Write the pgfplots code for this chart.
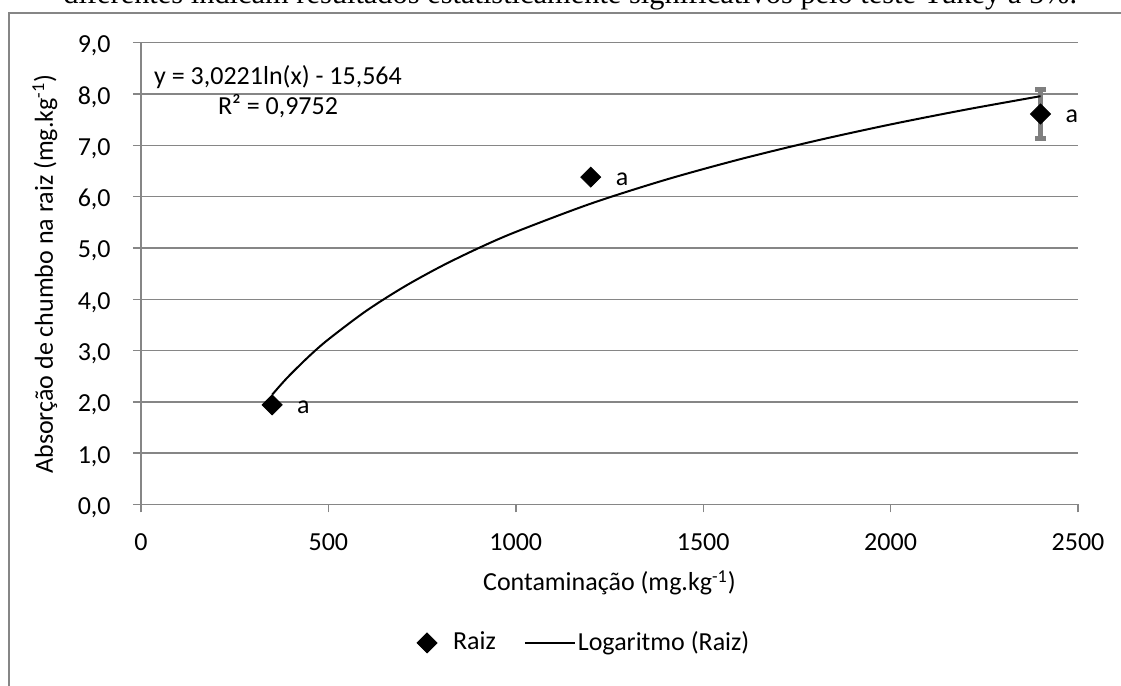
\documentclass[border=0pt]{standalone}
\usepackage{fontspec}
\setmainfont{Carlito}
\newfontfamily\timesfont{Liberation Serif}
\usepackage{pgfplots}
\pgfplotsset{compat=1.18}
\definecolor{gridgray}{RGB}{134,134,134}
\definecolor{errgray}{RGB}{127,127,127}
\pgfplotsset{
  markleg/.style={legend image code/.code={\draw[##1] plot coordinates {(5pt,0pt)}; \path[draw=none] (0pt,0pt) -- (17pt,0pt);}},
  lineleg/.style={legend image code/.code={\draw[##1] (0pt,0pt) -- (25pt,0pt);}},
}

\begin{document}
\fontsize{13}{15.6}\selectfont
\begin{tikzpicture}
% caption line of the page above the chart (cut by the page edge)
\node[anchor=base west, inner sep=0pt, font=\timesfont\fontsize{15.2}{18}\selectfont]
  at (31.5pt,341.3pt) {diferentes indicam resultados estatisticamente significativos pelo teste Tukey a 5\%.};
% chart frame
\draw[gridgray, line width=0.7pt] (4.5pt,-20pt) -- (4.5pt,336.5pt) -- (600pt,336.5pt);

\begin{axis}[
    at={(70.5pt,90.8pt)}, anchor=south west,
    scale only axis, width=468.5pt, height=230.85pt,
    xmin=0, xmax=2500, ymin=0, ymax=9,
    xtick={0,500,1000,1500,2000,2500},
    ytick={0,1,2,3,4,5,6,7,8,9},
    scaled x ticks=false,
    axis lines*=left,
    axis line style={-, draw=gridgray, line width=0.7pt},
    tick align=outside, major tick length=4pt,
    tick style={draw=gridgray, line width=0.7pt},
    ymajorgrids, grid style={draw=gridgray, line width=0.7pt},
    /pgf/number format/assume math mode=true,
    xticklabel style={/pgf/number format/1000 sep={}, anchor=base, inner sep=0pt, yshift=-19pt},
    yticklabel style={/pgf/number format/fixed, /pgf/number format/fixed zerofill,
        /pgf/number format/precision=1, /pgf/number format/use comma,
        anchor=base east, inner sep=0pt, xshift=-11pt, yshift=-5pt},
    xlabel={Contaminação (mg.kg\textsuperscript{-1})},
    ylabel={Absorção de chumbo na raiz (mg.kg\textsuperscript{-1})},
    every axis x label/.style={at={(axis description cs:0.5,-0.1700)}, anchor=center},
    every axis y label/.style={at={(axis description cs:-0.1025,0.499)}, rotate=90, anchor=center},
    legend columns=2,
    legend cell align=left,
    legend style={draw=none, fill=none, at={(axis description cs:0.473,-0.300)}, anchor=center,
        nodes={inner sep=1pt},
        /tikz/every even column/.append style={column sep=13pt}},
]
% error bar of the last treatment
\addplot[draw=none, forget plot,
    error bars/.cd, y dir=both, y explicit,
    error bar style={draw=errgray, line width=2.5pt},
    error mark options={rotate=90, draw=errgray, line width=2.5pt, mark size=2.75pt}]
    coordinates {(2400,7.61) +- (0,0.47)};

\addplot[only marks, mark=square*, mark size=3.54pt,
    mark options={rotate=45, draw=black, fill=black},
    nodes near coords={a},
    every node near coord/.append style={anchor=base west, inner sep=0pt,
        xshift=12.3pt, yshift=-4.2pt, black},
    markleg]
    coordinates {(350,1.94) (1200,6.38) (2400,7.61)};
\addlegendentry{Raiz}

% trend line  y = 3,0221 ln(x) - 15,564
\addplot[black, line width=1pt, smooth, lineleg]
    coordinates {
    (350,2.139) (375,2.348) (400,2.543) (450,2.899) (500,3.217)
    (600,3.768) (700,4.234) (800,4.638) (900,4.994) (1000,5.312)
    (1200,5.863) (1400,6.329) (1600,6.732) (1800,7.088) (2000,7.407)
    (2200,7.695) (2400,7.958)
    };
\addlegendentry{Logaritmo (Raiz)}
\end{axis}

\node[anchor=base] at (139pt,300.5pt) {y = 3,0221ln(x) - 15,564};
\node[anchor=base] at (139pt,285.5pt) {R² = 0,9752};

\pgfresetboundingbox
\useasboundingbox (0pt,0pt) rectangle (560.5pt,343pt);
\end{tikzpicture}
\end{document}
